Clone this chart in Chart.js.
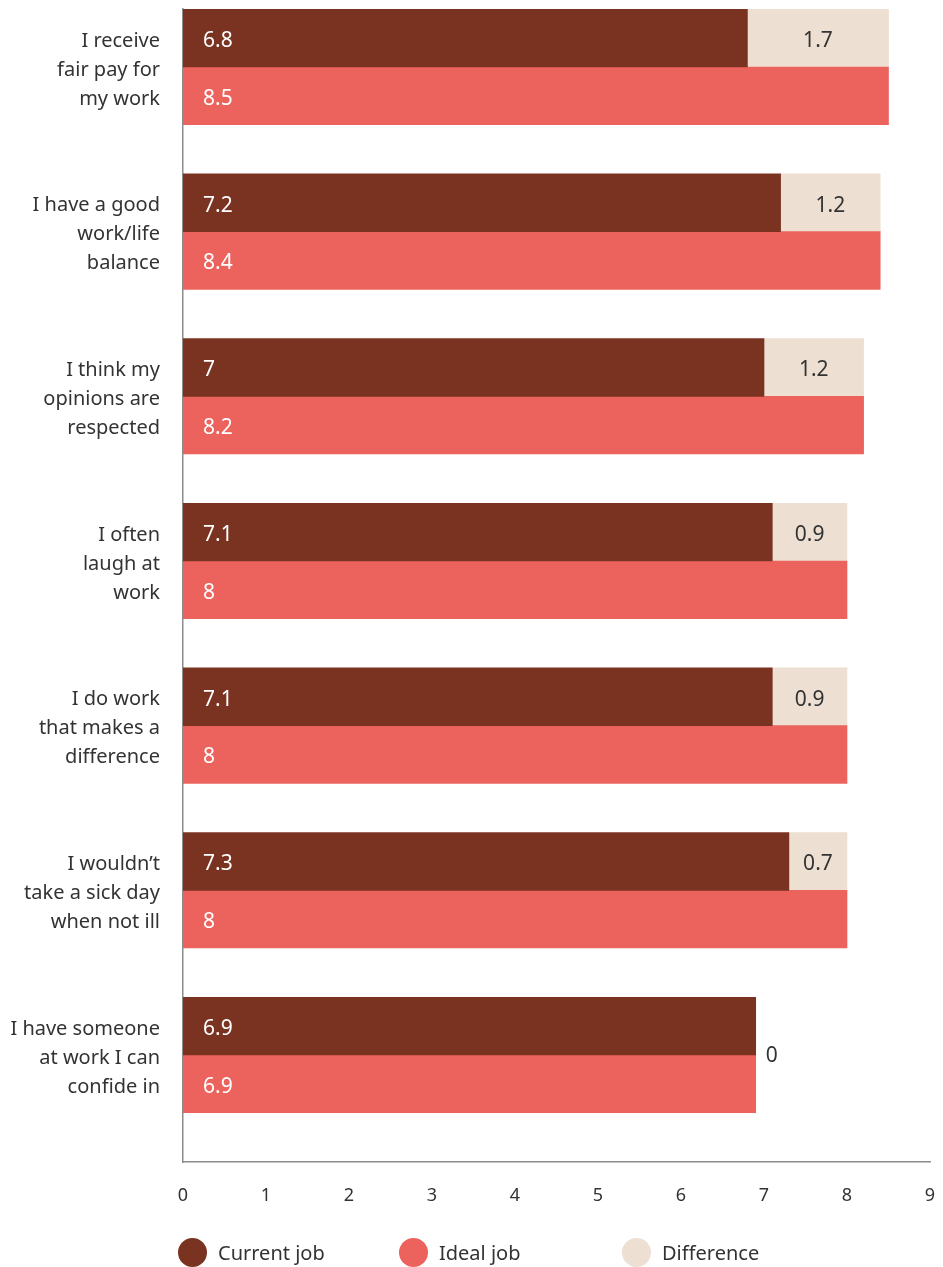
<!DOCTYPE html>
<html>
<head>
<meta charset="utf-8">
<title>Current job vs ideal job</title>
<script src="https://cdn.jsdelivr.net/npm/chart.js@4.4.1/dist/chart.umd.min.js"></script>
<style>
  html, body { margin: 0; padding: 0; background: #fff; }
  #wrap { position: relative; width: 943px; height: 1267px; overflow: hidden; }
  #chart { position: absolute; left: 0; top: 0; }
  #legend { position: absolute; left: 0; top: 1238px; width: 943px; height: 30px;
            font: 20px 'Noto Sans', sans-serif; color: #333; }
  #legend .item { position: absolute; top: 0; height: 29px; line-height: 29px; white-space: nowrap; }
  #legend .dot { position: absolute; top: 0; width: 29px; height: 29px; border-radius: 50%; }
</style>
</head>
<body>
<div id="wrap">
  <canvas id="chart" width="943" height="1267"></canvas>
  <div id="legend"></div>
</div>
<script>
// ── data ─────────────────────────────────────────────
var categories = [
  ['I receive', 'fair pay for', 'my work'],
  ['I have a good', 'work/life', 'balance'],
  ['I think my', 'opinions are', 'respected'],
  ['I often', 'laugh at', 'work'],
  ['I do work', 'that makes a', 'difference'],
  ['I wouldn\u2019t', 'take a sick day', 'when not ill'],
  ['I have someone', 'at work I can', 'confide in']
];
var currentJob = [6.8, 7.2, 7, 7.1, 7.1, 7.3, 6.9];
var idealJob   = [8.5, 8.4, 8.2, 8, 8, 8, 6.9];
var difference = [1.7, 1.2, 1.2, 0.9, 0.9, 0.7, 0];
var xTicks = [0, 1, 2, 3, 4, 5, 6, 7, 8, 9];

var seriesNames  = ['Current job', 'Ideal job', 'Difference'];
var seriesColors = ['#7b3321', '#ec635d', '#eddfd2'];

// ── layout ───────────────────────────────────────────
var FONT = "'Noto Sans', sans-serif";
var TEXT = '#333';
var AXIS = '#8c8c8c';

function pts(arr) {
  return arr.map(function(v, i){ return {x: v, y: i}; });
}

// Value labels: white inside the job bars, dark centred in the difference
// segment, and beside the bar when the difference is zero.
var barLabels = {
  id: 'barLabels',
  afterDatasetsDraw: function(chart) {
    var ctx = chart.ctx;
    ctx.save();
    ctx.font = '21px ' + FONT;
    ctx.textBaseline = 'middle';
    chart.data.datasets.forEach(function(ds, di) {
      var meta = chart.getDatasetMeta(di);
      meta.data.forEach(function(bar, i) {
        var v = ds.data[i].x;
        var p = bar.getProps(['x', 'y', 'base', 'height'], true);
        if (ds.label === 'Difference') {
          ctx.fillStyle = TEXT;
          if (v > 0) {
            ctx.textAlign = 'center';
            ctx.fillText(String(v), (p.x + p.base) / 2, p.y + 3);
          } else {
            ctx.textAlign = 'left';
            ctx.fillText(String(v), p.x + 10, p.y + p.height / 2 + 1);
          }
        } else {
          ctx.fillStyle = '#fff';
          ctx.textAlign = 'left';
          ctx.fillText(String(v), p.base + 20, p.y + 3);
        }
      });
    });
    ctx.restore();
  }
};

new Chart(document.getElementById('chart'), {
  type: 'bar',
  data: {
    datasets: [
      { label: seriesNames[0], data: pts(currentJob), backgroundColor: seriesColors[0], stack: 'a' },
      { label: seriesNames[1], data: pts(idealJob),   backgroundColor: seriesColors[1], stack: 'b' },
      { label: seriesNames[2], data: pts(difference), backgroundColor: seriesColors[2], stack: 'a' }
    ]
  },
  plugins: [barLabels],
  options: {
    indexAxis: 'y',
    responsive: false,
    animation: false,
    devicePixelRatio: 1,
    datasets: { bar: { barThickness: 57.7, borderWidth: 0 } },
    layout: { padding: { top: 9, right: 13, bottom: 0, left: 0 } },
    plugins: {
      legend: { display: false },
      tooltip: { enabled: false }
    },
    scales: {
      x: {
        type: 'linear',
        stacked: true,
        min: 0,
        max: 9,
        grid: { display: false, drawTicks: false },
        border: { display: true, color: AXIS, width: 1.5 },
        afterBuildTicks: function(scale) {
          scale.ticks = xTicks.map(function(v){ return {value: v}; });
        },
        ticks: { color: TEXT, font: { family: FONT, size: 18 }, padding: 23 },
        afterFit: function(scale) {
          scale.height = 105;
          scale.paddingLeft = 0;
          scale.paddingRight = 0;
        }
      },
      y: {
        type: 'linear',
        stacked: true,
        reverse: true,
        offset: false,
        min: -0.352,
        max: 6.65,
        grid: { display: false, drawTicks: false },
        border: { display: true, color: AXIS, width: 1.5 },
        afterBuildTicks: function(scale) {
          scale.ticks = categories.map(function(c, i){ return {value: i}; });
        },
        ticks: {
          autoSkip: false,
          color: TEXT,
          padding: 23,
          labelOffset: 3,
          font: { family: FONT, size: 20, lineHeight: 1.45 },
          callback: function(v) { return categories[v]; }
        },
        afterFit: function(scale) {
          scale.width = 183;
          scale.paddingTop = 0;
          scale.paddingBottom = 0;
        }
      }
    }
  }
});

// HTML legend built from the series arrays
var legendPos = [178, 399, 622];
var legend = document.getElementById('legend');
seriesNames.forEach(function(name, i) {
  var item = document.createElement('div');
  item.className = 'item';
  item.style.left = legendPos[i] + 'px';
  item.innerHTML = '<span class="dot" style="left:0;background:' + seriesColors[i] + '"></span>' +
                   '<span style="margin-left:40px">' + name + '</span>';
  legend.appendChild(item);
});
</script>
</body>
</html>
